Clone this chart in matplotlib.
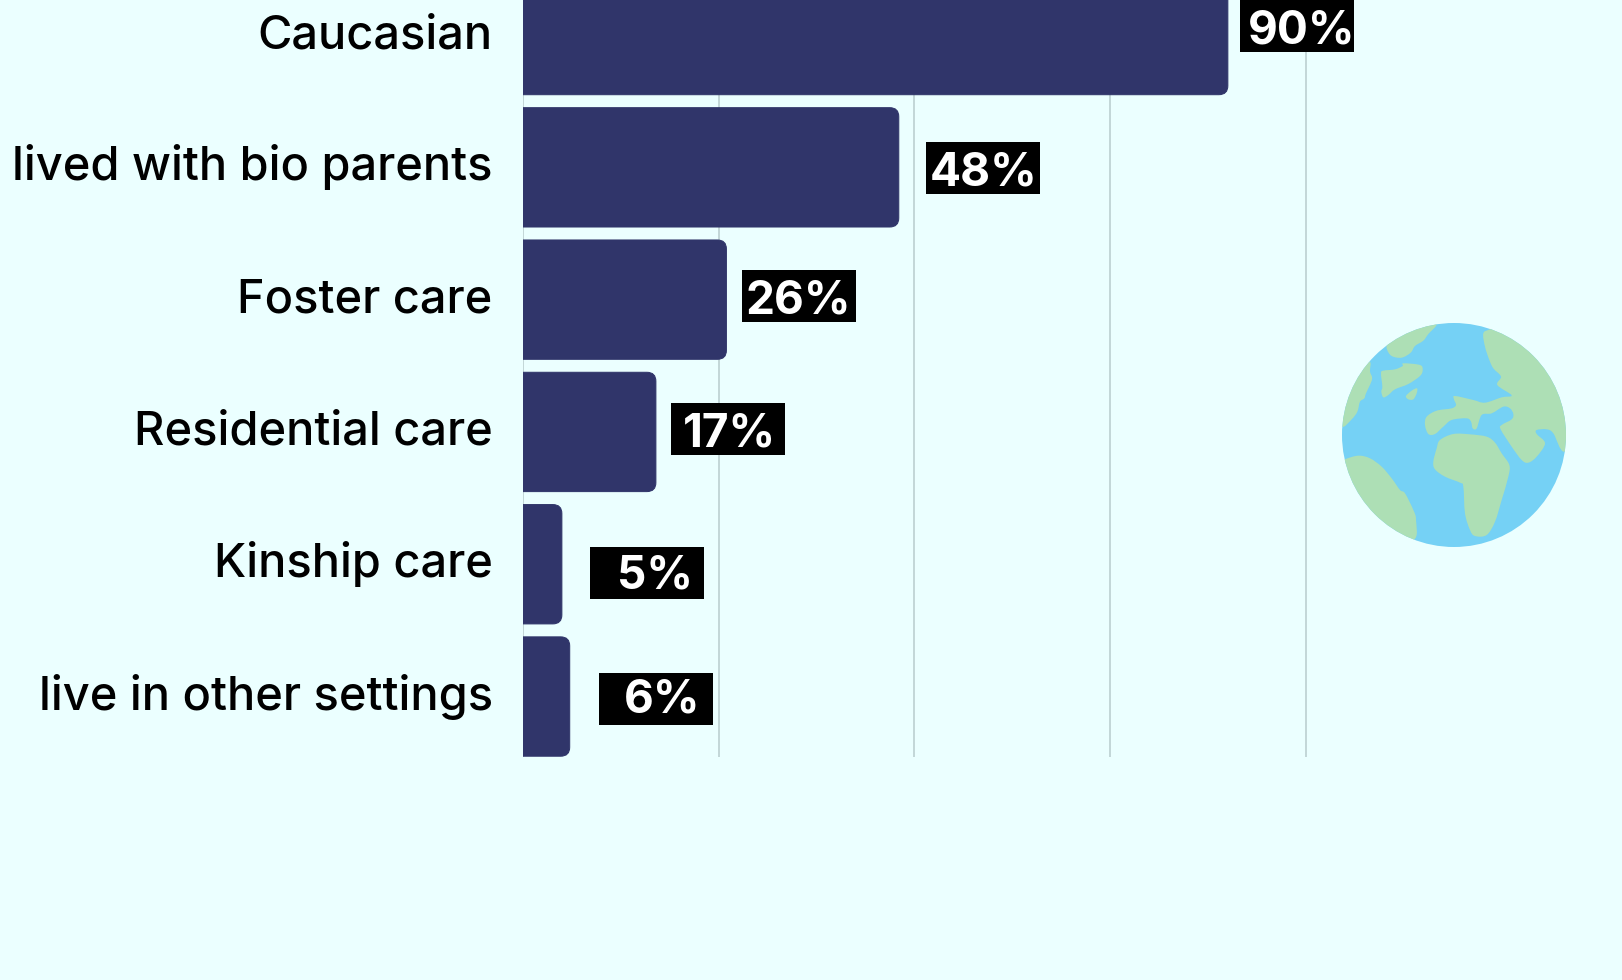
import matplotlib
matplotlib.use("Agg")
import matplotlib.pyplot as plt
from matplotlib.patches import Circle, PathPatch, Rectangle
from matplotlib.path import Path

categories = ["Caucasian", "lived with bio parents", "Foster care",
              "Residential care", "Kinship care", "live in other settings"]
values = [90, 48, 26, 17, 5, 6]
grid_ticks = [0, 25, 50, 75, 100]

# left edge of each black value box, and the top of it, in pixels
box_left = [1240, 926, 742, 671, 590, 599]
box_top = [0, 142, 270, 403, 547, 673]
text_right = [1355, 1038, 851, 776, 693, 700]
text_base = [43, 186, 313, 446, 588, 712]

BG = "#ebffff"
BAR = "#30356a"
GRID = "#b7cbcc"
OCEAN = "#75d1f5"
LAND = "#addfb5"
W, H = 1622, 980
PX = 0.72  # points per pixel at dpi 100

# land outlines of the globe icon, traced on a 3x grid
land = [
    [(350, 42), (325, 72), (310, 92), (285, 108), (272, 128), (245, 143), (215, 138),
     (201, 118), (205, 100), (250, 50), (320, 25)],
    [(250, 160), (300, 165), (308, 180), (300, 198), (265, 222), (225, 238), (205, 255),
     (190, 262), (184, 245), (187, 230), (183, 190), (190, 182), (225, 178), (248, 168)],
    [(258, 258), (275, 242), (291, 235), (290, 250), (280, 268), (265, 268)],
    [(148, 155), (150, 185), (156, 208), (138, 250), (133, 265), (120, 275), (112, 305),
     (95, 328), (66, 350), (50, 300), (100, 180)],
    [(75, 448), (115, 437), (150, 445), (185, 470), (215, 505), (240, 540), (255, 550),
     (280, 600), (288, 630), (280, 690), (180, 680), (80, 560), (60, 460)],
    [(510, 58), (490, 70), (495, 110), (508, 150), (520, 175), (543, 200), (532, 225),
     (575, 256), (545, 262), (495, 278), (460, 270), (405, 258), (402, 268), (408, 285),
     (395, 295), (350, 302), (320, 320), (315, 345), (325, 372), (345, 372), (370, 350),
     (395, 330), (440, 325), (453, 335), (458, 355), (470, 355), (485, 315), (515, 310),
     (550, 290), (570, 295), (580, 312), (575, 328), (545, 345), (542, 358), (575, 410),
     (605, 450), (625, 458), (650, 440), (675, 400), (650, 372), (650, 360), (680, 358),
     (700, 370), (733, 425), (780, 350), (700, 100), (560, 40)],
    [(360, 390), (400, 372), (450, 373), (500, 380), (525, 398), (545, 430), (568, 465),
     (565, 500), (545, 570), (525, 635), (500, 675), (465, 678), (450, 660), (435, 610),
     (430, 530), (420, 518), (375, 500), (345, 478), (340, 455), (350, 415)],
]


def smooth_outline(points):
    # closed catmull-rom curve through the outline points
    pts = [(1320 + x / 3, 310 + y / 3) for x, y in points]
    n = len(pts)
    verts = [pts[0]]
    codes = [Path.MOVETO]
    for i in range(n):
        p0, p1, p2, p3 = pts[i - 1], pts[i], pts[(i + 1) % n], pts[(i + 2) % n]
        c1 = (p1[0] + (p2[0] - p0[0]) / 6, p1[1] + (p2[1] - p0[1]) / 6)
        c2 = (p2[0] - (p3[0] - p1[0]) / 6, p2[1] - (p3[1] - p1[1]) / 6)
        verts += [c1, c2, p2]
        codes += [Path.CURVE4] * 3
    return Path(verts, codes)


def round_bar(x, y, h, rx, ry):
    # square on the left, rounded on the right
    t, b = y - h / 2, y + h / 2
    verts = [(0, t), (x - rx, t), (x, t), (x, t + ry), (x, b - ry), (x, b), (x - rx, b),
             (0, b), (0, t)]
    codes = [Path.MOVETO, Path.LINETO, Path.CURVE3, Path.CURVE3, Path.LINETO,
             Path.CURVE3, Path.CURVE3, Path.LINETO, Path.CLOSEPOLY]
    return Path(verts, codes)


plt.rcParams["font.family"] = ["Inter", "DejaVu Sans"]
fig = plt.figure(figsize=(W / 100, H / 100), dpi=100, facecolor=BG)

# bar axes: 7.835 px per percent, 132.3 px per row
ax = fig.add_axes([522.7 / W, (H - 757) / H, (W - 522.7) / W, 757 / H])
ax.set_facecolor("none")
ax.set_xlim(0, (W - 522.7) / 7.835)
ax.set_ylim(5.457, 5.457 - 757 / 132.3)
for s in ax.spines.values():
    s.set_visible(False)
ax.set_xticks([])
ax.set_yticks([])
for g in grid_ticks:
    ax.axvline(g, color=GRID, lw=1.5 * PX, zorder=1)
for i, v in enumerate(values):
    ax.add_patch(PathPatch(round_bar(v, i, 0.902, 9 / 7.835, 9 / 132.3), fc=BAR, ec=BAR,
                           lw=1 * PX, zorder=2))
    ax.annotate(categories[i], (0, i), xytext=(-30 * PX, -13 * PX), textcoords="offset points",
                ha="right", va="baseline", fontsize=47 * PX, fontweight="medium", color="black",
                annotation_clip=False)

# pixel overlay for the value boxes and the globe
top = fig.add_axes([0, 0, 1, 1])
top.set_xlim(0, W)
top.set_ylim(H, 0)
top.axis("off")
for i, v in enumerate(values):
    top.add_patch(Rectangle((box_left[i], box_top[i]), 114, 52, fc="black", ec="none"))
    top.text(text_right[i], text_base[i], f"{v}%", ha="right", va="baseline",
             fontsize=46 * PX, fontweight="bold", color="white")

globe = Circle((1454, 435), 112, fc=OCEAN, ec="none")
top.add_patch(globe)
for shape in land:
    p = PathPatch(smooth_outline(shape), fc=LAND, ec="none")
    top.add_patch(p)
    p.set_clip_path(globe)

fig.savefig("out.png", dpi=100, facecolor=BG)
